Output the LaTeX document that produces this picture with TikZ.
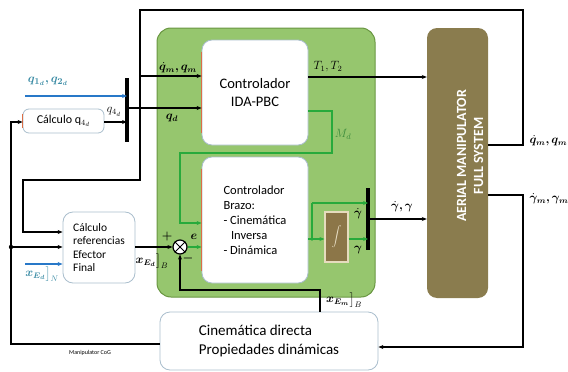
\documentclass[tikz,border=0pt]{standalone}
\usepackage{fontspec}
\usepackage{amsmath,bm}
\setsansfont{Carlito}
\usetikzlibrary{arrows.meta,calc}
\definecolor{gfill}{RGB}{150,198,110}
\definecolor{gedge}{RGB}{105,150,65}
\definecolor{olive}{RGB}{138,124,78}
\definecolor{integfill}{RGB}{140,118,72}
\definecolor{integedge}{RGB}{230,220,190}
\definecolor{integtext}{RGB}{235,225,200}
\definecolor{gline}{RGB}{40,170,60}
\definecolor{bline}{RGB}{40,120,200}
\definecolor{blabel}{RGB}{60,140,165}
\definecolor{boxedge}{RGB}{170,190,205}
\definecolor{redge}{RGB}{220,110,70}
\definecolor{mdcol}{RGB}{60,140,60}
\begin{document}
\begin{tikzpicture}[x=1pt,y=-1pt,
  wbox/.style={draw=boxedge, line width=0.8pt, fill=white, rounded corners=10pt, inner sep=2pt},
  blk/.style={line width=1.3pt, draw=black},
  arr/.style={blk, -{Stealth[length=5pt,width=4pt]}},
  garr/.style={line width=1.6pt, draw=gline, -{Stealth[length=5pt,width=4pt]}},
  gln/.style={line width=1.6pt, draw=gline},
  barr/.style={line width=1.6pt, draw=bline, -{Stealth[length=5pt,width=4pt]}},
  mlab/.style={font=\fontsize{11.5}{13}\selectfont, inner sep=0.5pt},
  muxbar/.style={line width=3.5pt, draw=black}
]
\useasboundingbox (0,0) rectangle (568,372);

% green container
\node[draw=gedge, line width=1pt, fill=gfill, rounded corners=14pt, minimum width=218pt, minimum height=269pt] (gc) at (266,162.5) {};

% boxes
\node[wbox, minimum width=106pt, minimum height=105pt, font=\sffamily\fontsize{14.5}{18}\selectfont, align=center] (ida) at (255,92.5) {Controlador\\IDA-PBC};
\node[wbox, minimum width=106pt, minimum height=126pt, font=\sffamily\fontsize{12.5}{15}\selectfont, align=left] (brazo) at (255,220) {Controlador\\Brazo:\\- Cinemática\\\hspace*{0.6em}Inversa\\- Dinámica};
\node[draw=integedge, line width=1.2pt, fill=integfill, minimum width=23pt, minimum height=50pt, inner sep=0pt, text=integtext] (integ) at (336.5,237) {$\displaystyle\int$};
\node[draw=none, fill=olive, rounded corners=10pt, minimum width=61pt, minimum height=270pt] (aerial) at (457.5,163) {};
\node[rotate=90, text=white, align=center, font=\sffamily\bfseries\fontsize{14}{17}\selectfont] (aerialtxt) at (470,156) {AERIAL MANIPULATOR\\FULL SYSTEM};
\node[wbox, minimum width=218pt, minimum height=58pt, font=\sffamily\fontsize{15}{19}\selectfont, align=left] (cin) at (269,341) {Cinemática directa\\Propiedades dinámicas};
\node[wbox, minimum width=81pt, minimum height=24pt, rounded corners=6pt, font=\sffamily\fontsize{12}{14}\selectfont] (cq4) at (63.5,121) {Cálculo q$_{4_d}$};
\node[wbox, minimum width=72pt, minimum height=71pt, font=\sffamily\fontsize{11.5}{13.4}\selectfont, align=left] (cref) at (99,247.5) {Cálculo\\referencias\\Efector\\Final};

% red left edges
\draw[redge, line width=1pt] ([yshift=-12pt]ida.north west) -- ([yshift=12pt]ida.south west);
\draw[redge, line width=1pt] ([yshift=-12pt]brazo.north west) -- ([yshift=12pt]brazo.south west);
\draw[redge, line width=1pt] ([yshift=-5pt]cq4.north west) -- ([yshift=5pt]cq4.south west);

% summing junction
\node[draw=black, line width=1.2pt, fill=white, circle, minimum size=14pt, inner sep=0pt] (sum) at (180,247) {};
\draw[black, line width=1pt] (sum.north west) -- (sum.south east);
\draw[black, line width=1pt] (sum.north east) -- (sum.south west);

% mux bars
\coordinate (b1t) at (127,78);
\coordinate (b1b) at (127,142);
\draw[muxbar] (b1t) -- (b1b);
\coordinate (b2t) at (368,188);
\coordinate (b2b) at (368,250);
\draw[muxbar] (b2t) -- (b2b);

% top feedback loop qdot_m, q_m
\coordinate (r1) at (523,145);
\coordinate (r1t) at (523,10);
\coordinate (l1t) at (140,10);
\coordinate (l1m) at (140,180);
\coordinate (l2m) at (23,180);
\draw[arr] (aerial.east |- r1) -- (r1) -- (r1t) -- (l1t) -- (l1m) -- (l2m) -- (23,232) -- (cref.west |- 0,232);
\draw[arr] (140,76) -- (ida.west |- 0,76);

% gamma_m loop
\coordinate (r2) at (523,195);
\coordinate (r2b) at (523,347);
\draw[arr] (aerial.east |- r2) -- (r2) -- (r2b) -- (cin.east |- r2b);

% manipulator CoG
\coordinate (cogb) at (11,344);
\coordinate (cogdot) at (11,247);
\draw[arr] (cin.west |- cogb) -- (cogb) -- (11,122) -- (cq4.west |- 0,122);
\draw[arr] (cogdot) -- (cref.west |- cogdot);
\fill[black] (cogdot) circle (2.2pt);

% inputs left
\draw[barr] (25,96) -- (b1t |- 0,96);
\draw[arr] (cq4.east |- 0,122) -- (b1t |- 0,122);
\draw[arr] (b1t |- 0,108) -- (ida.west |- 0,108);
\draw[barr] (25,264) -- (cref.west |- 0,264);
\draw[arr] (cref.east |- sum) -- (sum.west);

% T1 T2
\draw[arr] (ida.east |- 0,77) -- (aerial.west |- 0,77);

% green Md
\draw[garr] (ida.east |- 0,111) -- (332,111) -- (332,153) -- (180,153) -- (180,223) -- (brazo.west |- 0,223);
% green e
\draw[garr] (sum.east) -- (brazo.west |- sum);
% gamma dot and integrator
\draw[garr] (brazo.east |- 0,239) -- (integ.west |- 0,239);
\draw[gln] (312,239) -- (312,203);
\draw[garr] (312,203) -- (b2t |- 0,203);
\draw[garr] (integ.east |- 0,239) -- (b2t |- 0,239);
\fill[gline] (312,239) circle (1.8pt);

% mux output
\draw[arr] (b2t |- 0,219) -- (aerial.west |- 0,219);

% x_Em feedback
\draw[arr] (cin.north -| 320,0) -- (320,290) -- (180,290) -- (sum.south);

% labels
\node[mlab] (lqmq) at (178,68) {$\bm{\dot q_m, q_m}$};
\node[mlab] (lqd) at (172,118) {$\bm{q_d}$};
\node[mlab, text=blabel, font=\fontsize{12.5}{14}\selectfont] (lq12) at (48,81) {$\bm{q_{1_d}, q_{2_d}}$};
\node[mlab] (lq4) at (114,112) {$q_{4_d}$};
\node[mlab] (lT) at (328,67) {$T_1, T_2$};
\node[mlab, text=mdcol] (lMd) at (343,134) {$M_d$};
\node[mlab] (lgd) at (358,214) {$\bm{\dot\gamma}$};
\node[mlab] (lg) at (358,250) {$\bm{\gamma}$};
\node[mlab] (lgg) at (402,207) {$\bm{\dot\gamma, \gamma}$};
\node[mlab, anchor=west] (lqr) at (529,141) {$\bm{\dot q_m, q_m}$};
\node[mlab, anchor=west] (lgr) at (529,199) {$\bm{\dot\gamma_m, \gamma_m}$};
\node[mlab] (lplus) at (167,236) {$\bm{+}$};
\node[mlab] (lminus) at (188,258) {$\bm{-}$};
\node[mlab] (le) at (194,237) {$\bm{e}$};
\node[mlab] (lxEdB) at (152,261) {$\bm{x_{E_d}}\big]_B$};
\node[mlab, text=blabel] (lxEdN) at (42,274) {$\bm{x_{E_d}}\big]_N$};
\node[mlab] (lxEmB) at (344,300) {$\bm{x_{E_m}}\big]_B$};
\node[font=\sffamily\fontsize{6}{7}\selectfont, inner sep=1pt] (lcog) at (90,353) {Manipulator CoG};
\end{tikzpicture}
\end{document}
